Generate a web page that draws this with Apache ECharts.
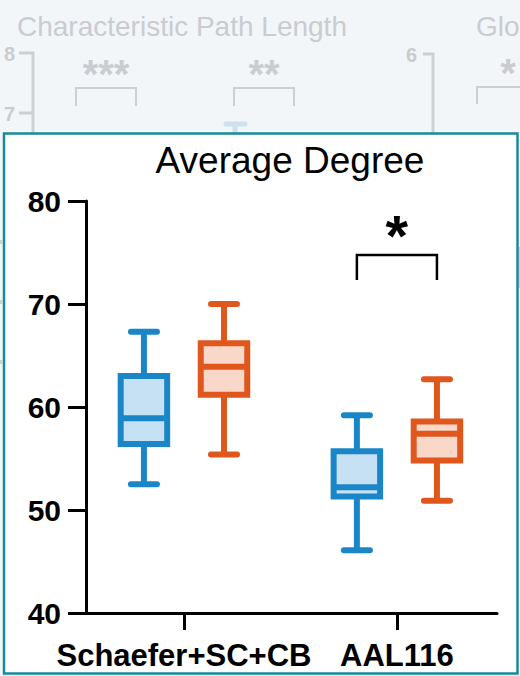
<!DOCTYPE html>
<html>
<head>
<meta charset="utf-8">
<script src="https://cdn.jsdelivr.net/npm/echarts@6/dist/echarts.min.js"></script>
<style>
  html, body { margin: 0; padding: 0; background: #f3f6f8; }
  #chart { width: 520px; height: 676px; }
</style>
</head>
<body>
<div id="chart"></div>
<script>
// ---------------- data ----------------
const chartTitle = 'Average Degree';
const groups = ['Schaefer+SC+CB', 'AAL116'];
const seriesNames = ['Group 1', 'Group 2'];
// each entry: [min, Q1, median, Q3, max]
const group1Stats = [
  [52.5, 56.4, 58.9, 63.0, 67.3],
  [46.1, 51.3, 52.2, 55.7, 59.2]
];
const group2Stats = [
  [55.4, 61.2, 63.9, 66.2, 70.0],
  [50.9, 54.8, 57.4, 58.6, 62.7]
];
const yTicks = [40, 50, 60, 70, 80];
const significance = [{ group: 'AAL116', label: '*' }];

// background (faded) panel texts
const bgTitles = ['Characteristic Path Length', 'Glo'];
const bgTickLabels = ['8', '7', '6'];
const bgStars = ['***', '**', '*'];

// ---------------- styles ----------------
const FONT = '"Liberation Sans", Arial, Helvetica, sans-serif';
const colors = [
  { stroke: '#1a86c7', fill: '#c5e1f3' },
  { stroke: '#e0571e', fill: '#f9d8c9' }
];
const PAIR_OFFSET = 0.188;      // x-axis units between group centre and box centre
const BOX_HALF = 23.25;         // px
const CAP_HALF = 13;            // px
const LW = 6;
const SIG_LEVEL = 74.75;        // y value of bracket line

function boxRenderer(idx) {
  const side = idx === 0 ? -1 : 1;
  const c = colors[idx];
  return function (params, api) {
    const x = api.value(0) + side * PAIR_OFFSET;
    const ys = [1, 2, 3, 4, 5].map(i => api.coord([x, api.value(i)])[1]);
    const cx = api.coord([x, api.value(3)])[0];
    const capStyle = { stroke: c.stroke, lineWidth: LW, lineCap: 'round' };
    const lineStyle = { stroke: c.stroke, lineWidth: LW };
    return {
      type: 'group',
      children: [
        { type: 'line', shape: { x1: cx, y1: ys[4], x2: cx, y2: ys[3] }, style: lineStyle },
        { type: 'line', shape: { x1: cx, y1: ys[1], x2: cx, y2: ys[0] }, style: lineStyle },
        { type: 'line', shape: { x1: cx - CAP_HALF, y1: ys[4], x2: cx + CAP_HALF, y2: ys[4] }, style: capStyle },
        { type: 'line', shape: { x1: cx - CAP_HALF, y1: ys[0], x2: cx + CAP_HALF, y2: ys[0] }, style: capStyle },
        { type: 'rect', shape: { x: cx - BOX_HALF, y: ys[3], width: 2 * BOX_HALF, height: ys[1] - ys[3] },
          style: { fill: c.fill, stroke: c.stroke, lineWidth: LW } },
        { type: 'line', shape: { x1: cx - BOX_HALF, y1: ys[2], x2: cx + BOX_HALF, y2: ys[2] }, style: lineStyle }
      ]
    };
  };
}

function sigRenderer(params, api) {
  const x = api.value(0);
  const pl = api.coord([x - PAIR_OFFSET, SIG_LEVEL]);
  const pr = api.coord([x + PAIR_OFFSET, SIG_LEVEL]);
  const legs = 25, st = { stroke: '#000', lineWidth: 2.5, fill: null };
  return {
    type: 'group',
    children: [
      { type: 'polyline', shape: { points: [[pl[0], pl[1] + legs], [pl[0], pl[1]], [pr[0], pr[1]], [pr[0], pr[1] + legs]] }, style: st },
      { type: 'text', style: { text: significance[params.dataIndex].label, x: (pl[0] + pr[0]) / 2, y: pl[1] - 20,
          align: 'center', verticalAlign: 'middle', fill: '#000',
          font: 'bold 58px ' + FONT } }
    ]
  };
}

const bgGray = '#c9ccd0';
const bgLine = '#cdd0d3';
const bgElements = [
  { type: 'text', x: 17, y: 26, style: { text: bgTitles[0], fill: bgGray, font: '28px ' + FONT, verticalAlign: 'middle' } },
  { type: 'text', x: 476, y: 26, style: { text: bgTitles[1], fill: bgGray, font: '28px ' + FONT, verticalAlign: 'middle' } },
  { type: 'text', x: 15, y: 54, style: { text: bgTickLabels[0], fill: bgGray, font: 'bold 20px ' + FONT, align: 'right', verticalAlign: 'middle' } },
  { type: 'text', x: 15, y: 114, style: { text: bgTickLabels[1], fill: bgGray, font: 'bold 20px ' + FONT, align: 'right', verticalAlign: 'middle' } },
  { type: 'text', x: 417, y: 55, style: { text: bgTickLabels[2], fill: bgGray, font: 'bold 20px ' + FONT, align: 'right', verticalAlign: 'middle' } },
  { type: 'polyline', shape: { points: [[19, 53], [33, 53], [33, 140]] }, style: { stroke: bgLine, lineWidth: 3, fill: null } },
  { type: 'line', shape: { x1: 19, y1: 113, x2: 33, y2: 113 }, style: { stroke: bgLine, lineWidth: 3 } },
  { type: 'polyline', shape: { points: [[423, 54], [433, 54], [433, 140]] }, style: { stroke: bgLine, lineWidth: 3, fill: null } },
  { type: 'polyline', shape: { points: [[76, 106], [76, 88], [136, 88], [136, 106]] }, style: { stroke: bgLine, lineWidth: 2, fill: null } },
  { type: 'polyline', shape: { points: [[234, 106], [234, 88], [294, 88], [294, 106]] }, style: { stroke: bgLine, lineWidth: 2, fill: null } },
  { type: 'polyline', shape: { points: [[477, 104], [477, 87], [530, 87]] }, style: { stroke: bgLine, lineWidth: 2, fill: null } },
  { type: 'text', x: 106, y: 74, style: { text: bgStars[0], fill: bgGray, font: 'bold 40px ' + FONT, align: 'center', verticalAlign: 'middle' } },
  { type: 'text', x: 264, y: 74, style: { text: bgStars[1], fill: bgGray, font: 'bold 40px ' + FONT, align: 'center', verticalAlign: 'middle' } },
  { type: 'text', x: 508, y: 73, style: { text: bgStars[2], fill: bgGray, font: 'bold 40px ' + FONT, align: 'center', verticalAlign: 'middle' } },
  { type: 'line', shape: { x1: 226, y1: 124, x2: 245, y2: 124 }, style: { stroke: '#cde2f0', lineWidth: 5, lineCap: 'round' } },
  { type: 'line', shape: { x1: 235, y1: 124, x2: 235, y2: 140 }, style: { stroke: '#cde2f0', lineWidth: 5 } },
  { type: 'rect', shape: { x: 0, y: 240, width: 2, height: 4 }, style: { fill: bgLine } },
  { type: 'rect', shape: { x: 0, y: 300, width: 2, height: 4 }, style: { fill: bgLine } },
  { type: 'rect', shape: { x: 0, y: 360, width: 2, height: 4 }, style: { fill: bgLine } },
  { type: 'line', shape: { x1: 519.5, y1: 247, x2: 519.5, y2: 288 }, style: { stroke: bgLine, lineWidth: 1.5 } }
].map(e => Object.assign({ z: 0 }, e));

const panel = { type: 'rect', z: 1, shape: { x: 4, y: 133.5, width: 513.5, height: 540 },
  style: { fill: '#ffffff', stroke: '#178a9c', lineWidth: 2.5 } };

const titleEl = { type: 'text', z: 2, x: 290, y: 160,
  style: { text: chartTitle, fill: '#000', font: '37px ' + FONT, align: 'center', verticalAlign: 'middle' } };

const tickValues = groups.map((g, i) => i + 1);

const option = {
  backgroundColor: '#f3f6f8',
  animation: false,
  graphic: { elements: bgElements.concat([panel, titleEl]) },
  grid: { left: 86, right: 23, top: 201, bottom: 63 },
  xAxis: {
    type: 'value', min: 0.54, max: 2.47, z: 10,
    axisLine: { show: true, onZero: false, lineStyle: { color: '#000', width: 3 } },
    axisTick: { show: true, length: 17, customValues: tickValues, lineStyle: { color: '#000', width: 3 } },
    axisLabel: { customValues: tickValues, formatter: v => groups[Math.round(v) - 1],
      margin: 27, fontSize: 31, fontWeight: 'bold', color: '#000', fontFamily: FONT },
    splitLine: { show: false }
  },
  yAxis: {
    type: 'value', min: yTicks[0], max: yTicks[yTicks.length - 1], interval: 10, z: 10,
    axisLine: { show: true, lineStyle: { color: '#000', width: 3 } },
    axisTick: { show: true, length: 18, lineStyle: { color: '#000', width: 3 } },
    axisLabel: { margin: 25, fontSize: 30, fontWeight: 'bold', color: '#000', fontFamily: FONT },
    splitLine: { show: false }
  },
  series: [
    { name: seriesNames[0], type: 'custom', z: 10, renderItem: boxRenderer(0),
      encode: { x: 0, y: [1, 2, 3, 4, 5] },
      data: group1Stats.map((s, i) => [i + 1].concat(s)) },
    { name: seriesNames[1], type: 'custom', z: 10, renderItem: boxRenderer(1),
      encode: { x: 0, y: [1, 2, 3, 4, 5] },
      data: group2Stats.map((s, i) => [i + 1].concat(s)) },
    { name: 'significance', type: 'custom', z: 10, renderItem: sigRenderer,
      encode: { x: 0, y: 1 },
      data: significance.map(s => [groups.indexOf(s.group) + 1, SIG_LEVEL]) }
  ]
};

const chart = echarts.init(document.getElementById('chart'), null, { renderer: 'svg' });
chart.setOption(option);
</script>
</body>
</html>
